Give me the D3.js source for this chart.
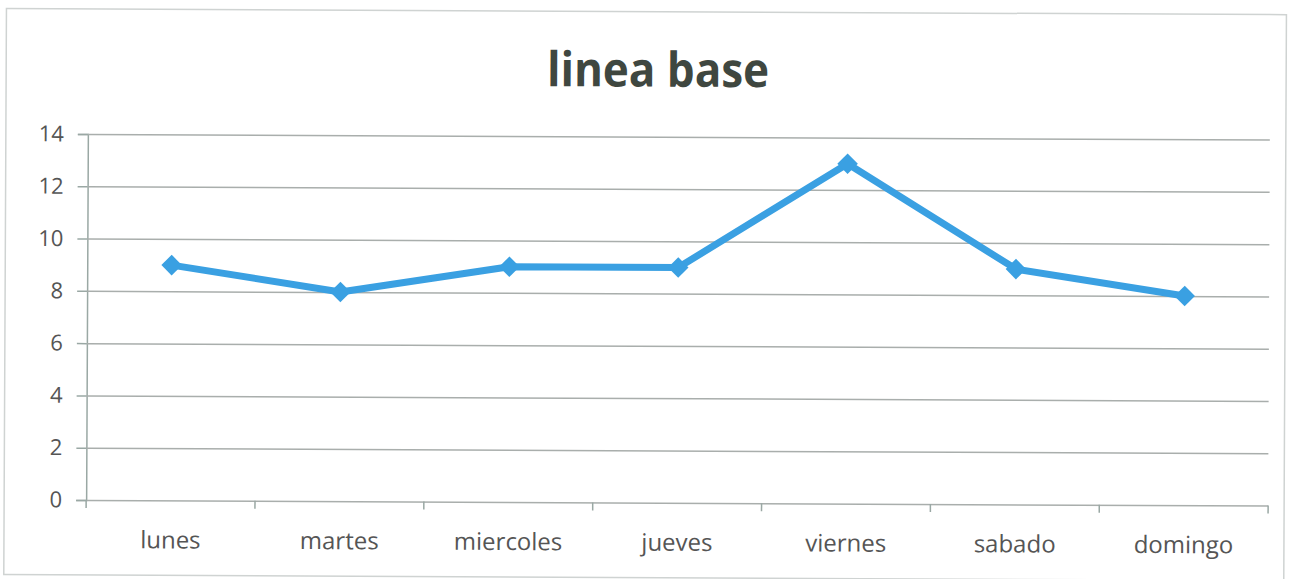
<!DOCTYPE html>
<html>
<head>
<meta charset="utf-8">
<script src="https://cdn.jsdelivr.net/npm/d3@7"></script>
<style>
  html, body { margin: 0; padding: 0; background: #fff; }
  svg { display: block; }
</style>
</head>
<body>
<svg id="chart" width="1301" height="579"></svg>
<script>
// Daily baseline values
const categories = ["lunes", "martes", "miercoles", "jueves", "viernes", "sabado", "domingo"];
const values = [9, 8, 9, 9, 13, 9, 8];
const yTicks = [0, 2, 4, 6, 8, 10, 12, 14];
const title = "linea base";

const W = 1301, H = 579;
const plot = { left: 87, right: 1269, top: 134, bottom: 500 };

const svg = d3.select("#chart");
svg.append("rect").attr("width", W).attr("height", H).attr("fill", "#fff");

// whole chart sits at a very slight clockwise tilt
const root = svg.append("g").attr("transform", "rotate(0.27 87 317)");

// outer frame
root.append("rect")
  .attr("x", 5).attr("y", 9).attr("width", 1280).attr("height", 566)
  .attr("fill", "none").attr("stroke", "#cfd3d2").attr("stroke-width", 1.5);

const x = d3.scaleBand().domain(categories).range([plot.left, plot.right]);
const y = d3.scaleLinear().domain([0, 14]).range([plot.bottom, plot.top]);

// horizontal gridlines + left ticks
const yAxis = d3.axisLeft(y).tickValues(yTicks).tickSize(10).tickPadding(14).tickFormat(d3.format("d"));
const gy = root.append("g").attr("transform", `translate(${plot.left},0)`).call(yAxis);
gy.select(".domain").attr("stroke", "#9aa8a4").attr("stroke-width", 1.5);
gy.selectAll(".tick line").attr("stroke", "#9aa8a4").attr("stroke-width", 1.5);
gy.selectAll(".tick text")
  .attr("fill", "#555").attr("font-size", 22).attr("font-family", "Open Sans, sans-serif");
gy.selectAll(".tick").append("line")
  .attr("x1", 0).attr("x2", plot.right - plot.left)
  .attr("stroke", "#a9aeac").attr("stroke-width", 1.5);

// category axis
const xAxis = d3.axisBottom(x).tickSize(0).tickPadding(31);
const gx = root.append("g").attr("transform", `translate(0,${plot.bottom})`).call(xAxis);
gx.select(".domain").remove();
gx.selectAll(".tick text")
  .attr("fill", "#555").attr("font-size", 24).attr("font-family", "Open Sans, sans-serif");
// band boundary tick marks
const bounds = categories.map(c => x(c)).concat([x(categories[categories.length - 1]) + x.bandwidth()]);
gx.selectAll(".bound").data(bounds).enter().append("line")
  .attr("x1", d => d).attr("x2", d => d).attr("y1", 0).attr("y2", 8)
  .attr("stroke", "#9aa8a4").attr("stroke-width", 1.5);

// data line
const cx = c => x(c) + x.bandwidth() / 2;
const pts = categories.map((c, i) => [cx(c), y(values[i])]);
root.append("path")
  .attr("d", d3.line()(pts))
  .attr("fill", "none").attr("stroke", "#3aa0e2").attr("stroke-width", 7)
  .attr("stroke-linejoin", "round");

// diamond markers
const diamond = d3.symbol().type(d3.symbolDiamond2).size(270);
root.selectAll(".mk").data(pts).enter().append("path")
  .attr("d", diamond)
  .attr("transform", d => `translate(${d[0]},${d[1]})`)
  .attr("fill", "#3aa0e2");

// title
root.append("text")
  .attr("x", 657).attr("y", 84)
  .attr("text-anchor", "middle")
  .attr("font-family", "Open Sans, sans-serif").attr("font-weight", "bold")
  .attr("font-size", 48)
  .attr("textLength", 222).attr("lengthAdjust", "spacingAndGlyphs")
  .attr("fill", "#3f4740")
  .text(title);
</script>
</body>
</html>
